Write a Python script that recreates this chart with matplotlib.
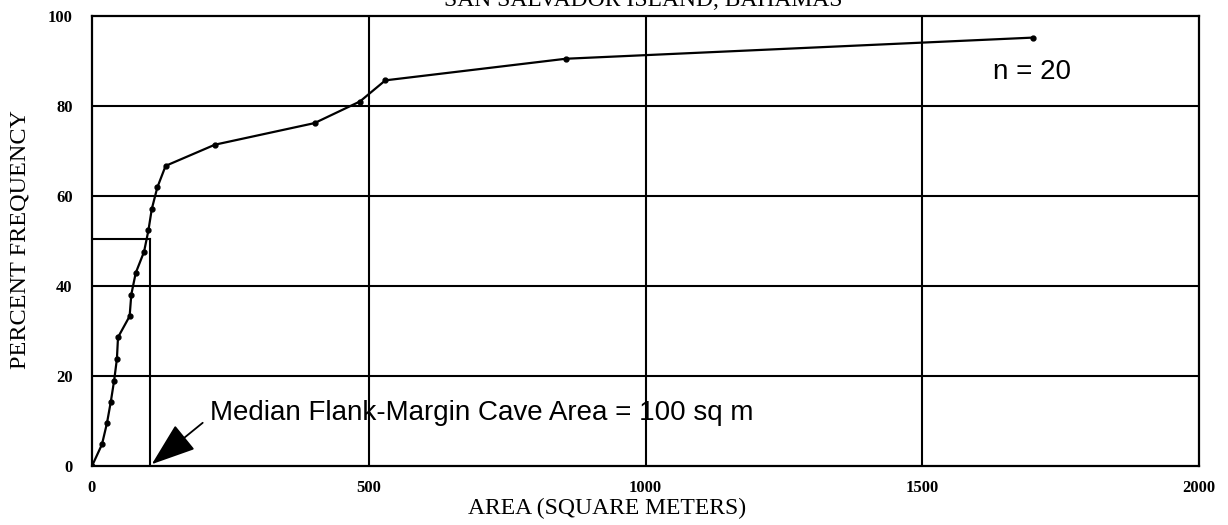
import matplotlib
matplotlib.use("Agg")
import matplotlib.pyplot as plt

# Data
area = [0, 18, 27, 34, 40, 45, 47, 68, 71, 79, 94, 102, 108, 118, 133,
        222, 402, 484, 530, 856, 1700]
percent = [0, 4.8, 9.5, 14.3, 19.0, 23.8, 28.6, 33.3, 38.1, 42.9, 47.6,
           52.4, 57.1, 61.9, 66.7, 71.4, 76.2, 81.0, 85.7, 90.5, 95.2]
median_area = 104
median_pct = 50.5
xticks = [0, 500, 1000, 1500, 2000]
yticks = [0, 20, 40, 60, 80, 100]
title = "SAN SALVADOR ISLAND, BAHAMAS"
xlabel = "AREA (SQUARE METERS)"
ylabel = "PERCENT FREQUENCY"
annot = "Median Flank-Margin Cave Area = 100 sq m"
ntext = "n = 20"

W, H = 1228, 525
fig = plt.figure(figsize=(W / 100, H / 100), dpi=100)
L, R, T, B = 92, 1199, 16, 466
ax = fig.add_axes([L / W, 1 - B / H, (R - L) / W, (B - T) / H])

ax.set_xlim(0, 2000)
ax.set_ylim(0, 100)

lw = 1.5
for x in xticks[1:-1]:
    ax.axvline(x, color="black", lw=lw, zorder=1)
for y in yticks[1:-1]:
    ax.axhline(y, color="black", lw=lw, zorder=1)

# median guide lines
ax.plot([0, median_area], [median_pct, median_pct], color="black", lw=lw, zorder=2)
ax.plot([median_area, median_area], [median_pct, 0], color="black", lw=lw, zorder=2)

ax.plot(area, percent, color="black", lw=1.6, marker="o", markersize=3.5, zorder=3)

for s in ax.spines.values():
    s.set_linewidth(1.6)
    s.set_color("black")

serif = ["Liberation Serif", "DejaVu Serif"]
sans = ["Liberation Sans", "DejaVu Sans"]

ax.set_xticks(xticks)
ax.set_yticks(yticks)
ax.set_xticklabels([str(v) for v in xticks], family=serif, fontweight="bold", fontsize=12)
ax.set_yticklabels([str(v) for v in yticks], family=serif, fontweight="bold", fontsize=12)
ax.tick_params(axis="both", length=0)
ax.tick_params(axis="x", pad=10)
ax.tick_params(axis="y", pad=14)

fig.text(607 / W, 1 - 508 / H, xlabel, family=serif, fontsize=17, ha="center", va="center")
fig.text(20 / W, 1 - 240 / H, ylabel, family=serif, fontsize=17.5, rotation=90,
         ha="center", va="center")
fig.text(643 / W, 1 - 6 / H, title, family=serif, fontsize=17, ha="center", va="baseline")

ax.annotate("", xy=(108, 0.4), xytext=(200, 9.6),
            arrowprops=dict(arrowstyle="-|>,head_length=1.4,head_width=0.5",
                            color="black", lw=1.3, mutation_scale=20,
                            shrinkA=0, shrinkB=0), zorder=4)
ax.text(213, 11.8, annot, family=sans, fontsize=20, ha="left", va="center", zorder=5)
ax.text(1628, 87.6, ntext, family=sans, fontsize=20, ha="left", va="center", zorder=5)

fig.savefig("out.png", dpi=100)
